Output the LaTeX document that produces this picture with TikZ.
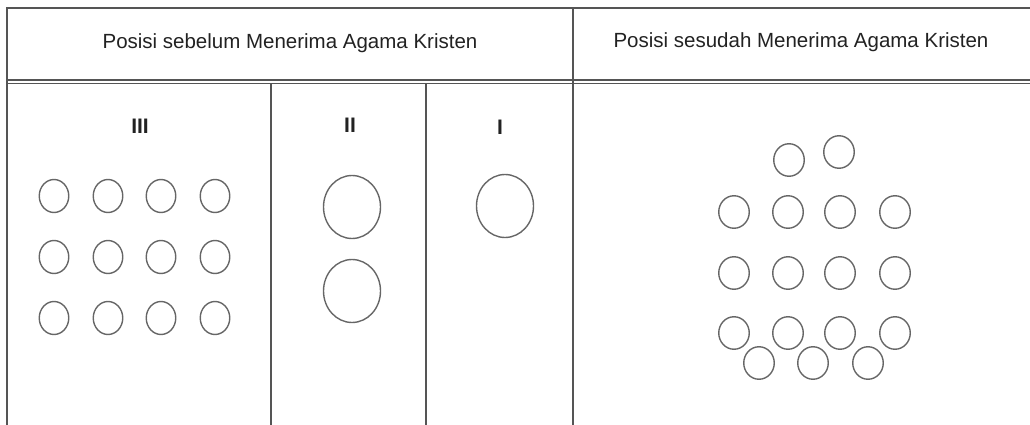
\documentclass[tikz,border=0pt]{standalone}
\usepackage{fontspec}
\setmainfont{Liberation Sans}
\usetikzlibrary{shapes.geometric}
\definecolor{rule}{HTML}{555555}
\definecolor{ring}{HTML}{666666}
\definecolor{ink}{HTML}{222222}
\tikzset{
  rulel/.style={draw=rule, line width=1.3pt},
  head/.style={text=ink, font=\fontsize{20.5}{24}\selectfont, inner sep=0pt},
  num/.style={text=ink, font=\fontsize{21}{24}\selectfont\bfseries, inner sep=0pt},
  smallc/.style={ellipse, draw=ring, line width=1.4pt, minimum width=29.5pt, minimum height=33pt, inner sep=0pt},
  rightc/.style={smallc, minimum width=30.5pt, minimum height=32.5pt},
  bigc/.style={ellipse, draw=ring, line width=1.4pt, minimum width=57pt, minimum height=63pt, inner sep=0pt},
}
\begin{document}
\begin{tikzpicture}[x=1pt,y=-1pt]
\useasboundingbox (0,0) rectangle (1030,425);
% table rules
\draw[rulel] (7,425) -- (7,8) -- (1030,8);
\draw[rulel] (7,80) -- (1030,80);
\draw[rulel] (7,83.5) -- (1030,83.5);
\draw[rulel] (573,8) -- (573,425);
\draw[rulel] (271,83.5) -- (271,425);
\draw[rulel] (426,83.5) -- (426,425);
% headers
\node[head] (h1) at (290,43) {Posisi sebelum Menerima Agama Kristen};
\node[head] (h2) at (801,42) {Posisi sesudah Menerima Agama Kristen};
\node[num] (n3) at (140,126) {III};
\node[num] (n2) at (350,125) {II};
\node[num] (n1) at (500,127) {I};
% group III
\foreach \r/\y in {1/196,2/257,3/318}{
  \foreach \c/\x in {1/54,2/108,3/161,4/215}{
    \node[smallc] (a\r\c) at (\x,\y) {};
  }
}
% group II
\node[bigc] (b1) at (352,207) {};
\node[bigc] (b2) at (352,291) {};
% group I
\node[bigc] (c1) at (505,206) {};
% after
\node[rightc] (t1) at (789,160) {};
\node[rightc] (t2) at (839,152) {};
\foreach \r/\y in {1/212,2/273,3/333}{
  \foreach \c/\x in {1/734,2/788,3/840,4/895}{
    \node[rightc] (d\r\c) at (\x,\y) {};
  }
}
\node[rightc] (e1) at (759,363) {};
\node[rightc] (e2) at (813,363) {};
\node[rightc] (e3) at (868,363) {};
\end{tikzpicture}
\end{document}
